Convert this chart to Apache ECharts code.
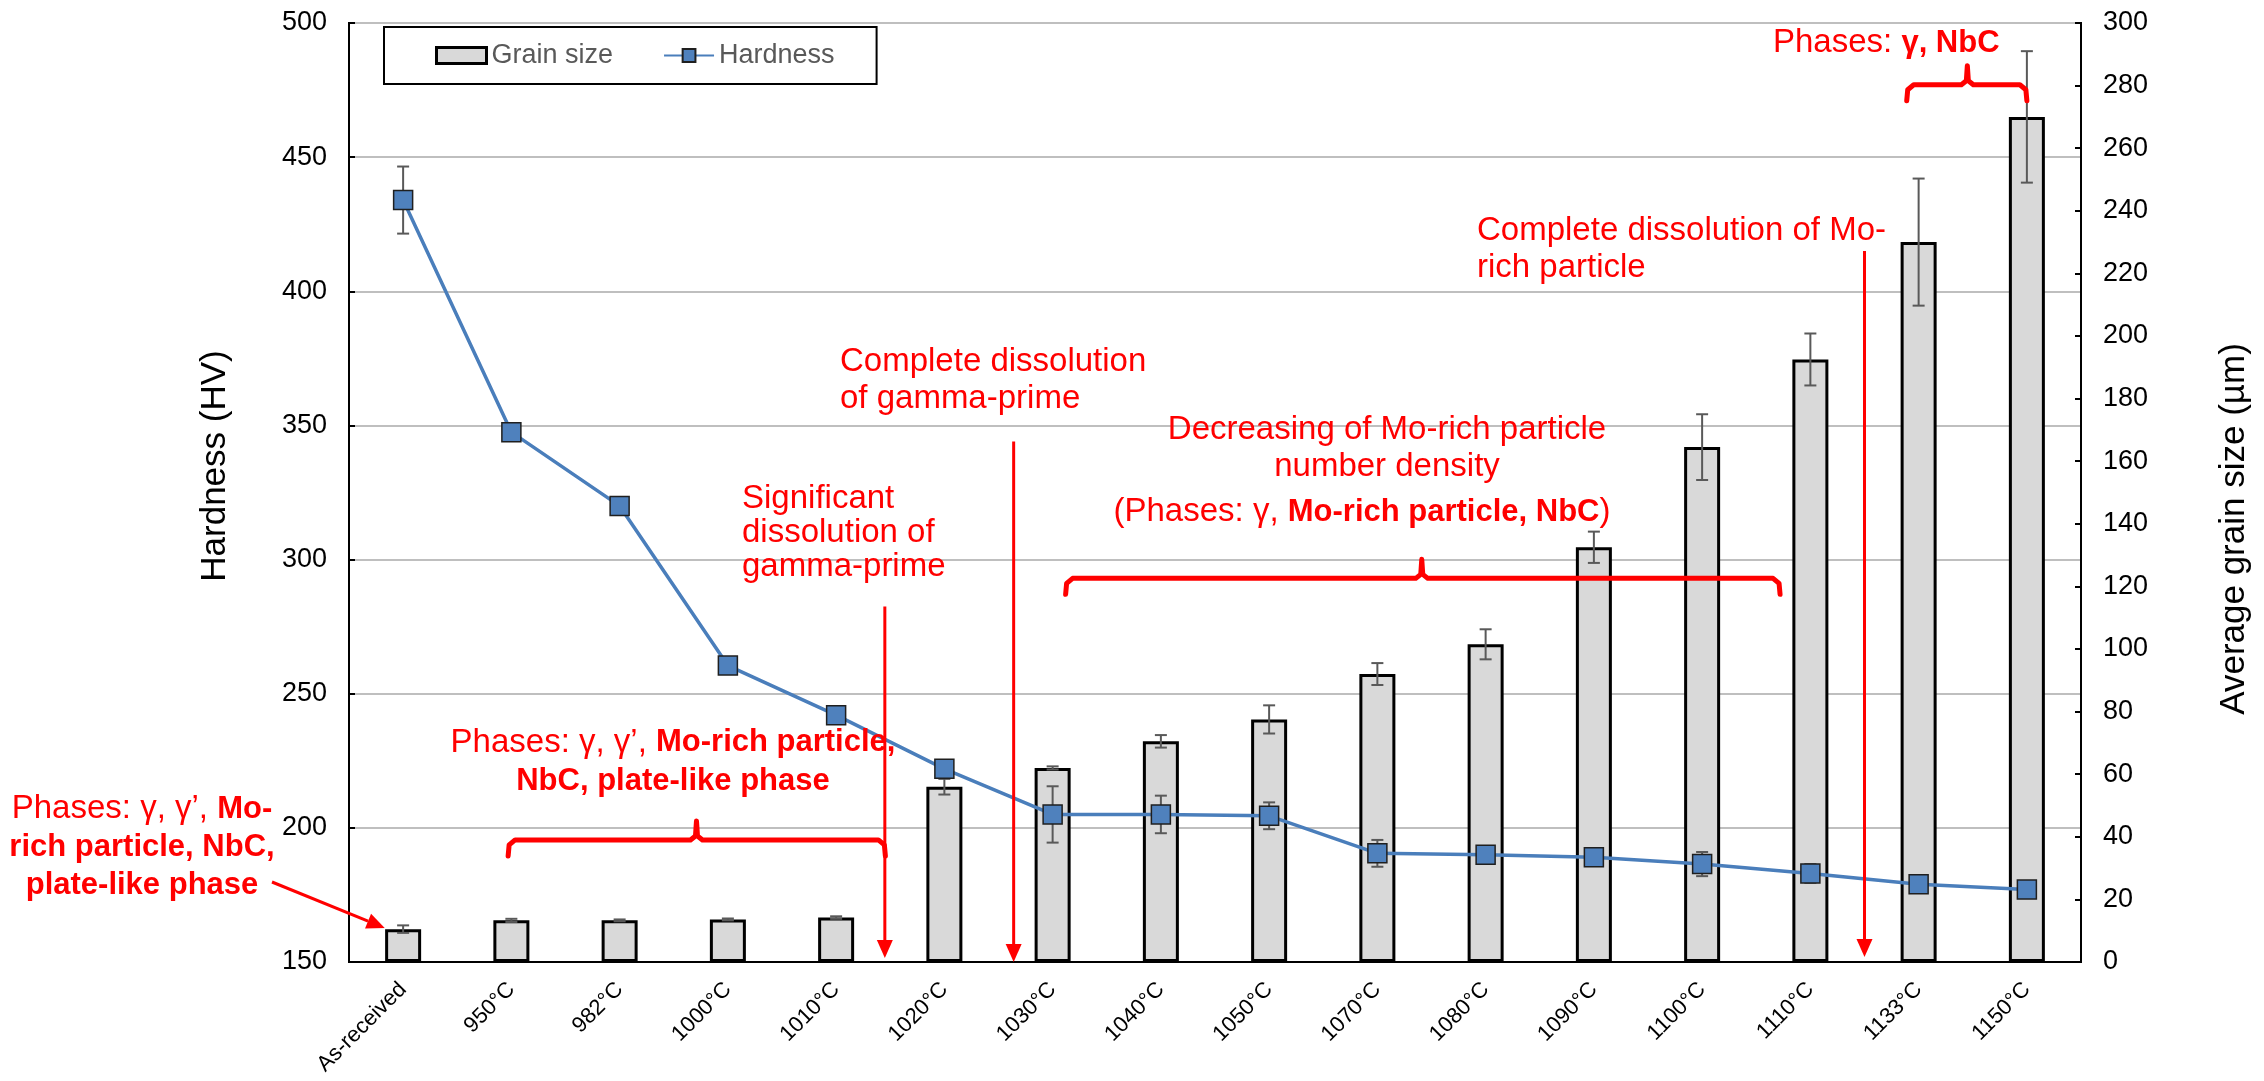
<!DOCTYPE html>
<html>
<head>
<meta charset="utf-8">
<script src="https://cdn.jsdelivr.net/npm/echarts@6/dist/echarts.min.js"></script>
<style>
  html, body { margin: 0; padding: 0; background: #fff; }
  #chart { width: 2264px; height: 1081px; }
</style>
</head>
<body>
<div id="chart"></div>
<script>
const categories = ['As-received', '950°C', '982°C', '1000°C', '1010°C', '1020°C', '1030°C', '1040°C',
  '1050°C', '1070°C', '1080°C', '1090°C', '1100°C', '1110°C', '1133°C', '1150°C']
// hardness (HV), left axis
const hardness = [434, 347.5, 320, 260.5, 242, 222, 205, 205, 204.5, 190.5, 190, 189, 186.5, 183, 179, 177]
const hardnessErr = [12.5, 1, 1, 1, 1, 3, 10.5, 7, 5, 5, 1.5, 2.5, 4.5, 3.5, 1.5, 2]
// average grain size (um), right axis
const grainSize = [10.5, 13.3, 13.3, 13.6, 14.2, 56, 62, 70.5, 77.5, 92, 101.5, 132.5, 164.5, 192.5, 230, 270]
const grainErr = [1.2, 0.5, 0.3, 0.3, 0.4, 2.5, 0.5, 2, 4.5, 3.5, 4.8, 5, 10.5, 8.3, 20.3, 21]

const RED = '#ff0000'
const FONT = 'Liberation Sans, Arial, sans-serif'

function errData(vals, errs) {
  return vals.map((v, i) => [i, v - errs[i], v + errs[i]])
}

function renderErr(params, api) {
  const lo = api.coord([api.value(0), api.value(1)])
  const hi = api.coord([api.value(0), api.value(2)])
  const hw = 6
  const st = { stroke: '#595959', lineWidth: 2 }
  return {
    type: 'group',
    children: [
      { type: 'line', shape: { x1: hi[0], y1: hi[1], x2: lo[0], y2: lo[1] }, style: st },
      { type: 'line', shape: { x1: hi[0] - hw, y1: hi[1], x2: hi[0] + hw, y2: hi[1] }, style: st },
      { type: 'line', shape: { x1: lo[0] - hw, y1: lo[1], x2: lo[0] + hw, y2: lo[1] }, style: st }
    ]
  }
}

const axisLabelStyle = { color: '#000', fontSize: 27, fontFamily: 'Arial, Liberation Sans, sans-serif', margin: 22 }

const chart = echarts.init(document.getElementById('chart'))
const option = {
  animation: false,
  backgroundColor: '#fff',
  grid: {
    left: 349, right: 183, top: 23, bottom: 119,
    show: true, borderColor: '#000', borderWidth: 2,
    outerBoundsMode: 'none'
  },
  legend: {
    left: 384, top: 27,
    orient: 'horizontal',
    padding: [15, 42, 15, 51],
    itemGap: 50,
    itemWidth: 50,
    itemHeight: 16,
    borderColor: '#000',
    borderWidth: 2,
    textStyle: { color: '#595959', fontSize: 27, fontFamily: 'Arial, Liberation Sans, sans-serif' },
    data: [
      { name: 'Grain size', icon: 'rect', itemStyle: { color: '#d9d9d9', borderColor: '#000', borderWidth: 3 } },
      { name: 'Hardness' }
    ]
  },
  xAxis: {
    type: 'category',
    data: categories,
    boundaryGap: true,
    axisLine: { lineStyle: { color: '#000', width: 2 } },
    axisTick: { show: false },
    axisLabel: { rotate: 45, interval: 0, color: '#000', fontSize: 22, fontFamily: 'Arial, Liberation Sans, sans-serif', margin: 24 },
    splitLine: { show: false }
  },
  yAxis: [
    {
      type: 'value', min: 150, max: 500, interval: 50,
      axisLine: { show: true, lineStyle: { color: '#000', width: 2 } },
      axisTick: { show: true, inside: true, length: 6, lineStyle: { color: '#000', width: 2 } },
      axisLabel: axisLabelStyle,
      splitLine: { show: true, lineStyle: { color: '#bfbfbf', width: 2 } }
    },
    {
      type: 'value', min: 0, max: 300, interval: 20, position: 'right',
      axisLine: { show: true, lineStyle: { color: '#000', width: 2 } },
      axisTick: { show: true, inside: true, length: 6, lineStyle: { color: '#000', width: 2 } },
      axisLabel: axisLabelStyle,
      splitLine: { show: false }
    }
  ],
  series: [
    {
      name: 'Grain size',
      type: 'bar',
      yAxisIndex: 1,
      barWidth: 36,
      z: 2,
      itemStyle: { color: '#d9d9d9', borderColor: '#000', borderWidth: 3 },
      data: grainSize
    },
    {
      name: 'grainErr',
      type: 'custom',
      yAxisIndex: 1,
      z: 3,
      renderItem: renderErr,
      encode: { x: 0, y: [1, 2] },
      data: errData(grainSize, grainErr)
    },
    {
      name: 'hardErr',
      type: 'custom',
      yAxisIndex: 0,
      z: 4,
      renderItem: renderErr,
      encode: { x: 0, y: [1, 2] },
      data: errData(hardness, hardnessErr)
    },
    {
      name: 'Hardness',
      type: 'line',
      yAxisIndex: 0,
      z: 5,
      symbol: 'rect',
      symbolSize: 19,
      lineStyle: { color: '#4a7ebb', width: 3.5 },
      itemStyle: { color: '#4f81bd', borderColor: '#1f1f1f', borderWidth: 1.5 },
      data: hardness
    }
  ]
}
chart.setOption(option)

// annotation helpers, placed from the axes
const x0 = chart.convertToPixel({ xAxisIndex: 0 }, 0)
const band = chart.convertToPixel({ xAxisIndex: 0 }, 1) - x0
const xAt = f => x0 + f * band
const yAt = v => chart.convertToPixel({ yAxisIndex: 0 }, v)

function arrow(x1, y1, x2, y2) {
  const a = Math.atan2(y2 - y1, x2 - x1)
  const L = 18, W = 8
  const bx = x2 - L * Math.cos(a), by = y2 - L * Math.sin(a)
  const px = -Math.sin(a) * W, py = Math.cos(a) * W
  return [
    { type: 'line', z: 100, shape: { x1: x1, y1: y1, x2: bx, y2: by }, style: { stroke: RED, lineWidth: 3 } },
    { type: 'polygon', z: 100, shape: { points: [[x2, y2], [bx + px, by + py], [bx - px, by - py]] }, style: { fill: RED } }
  ]
}

function brace(xa, xb, xm, y) {
  return {
    type: 'polyline', z: 100,
    shape: {
      points: [[xa, y + 16], [xa + 1, y + 5], [xa + 7, y], [xm - 6, y], [xm - 1, y - 4], [xm, y - 19],
        [xm + 1, y - 4], [xm + 6, y], [xb - 7, y], [xb - 1, y + 5], [xb, y + 16]]
    },
    style: { stroke: RED, lineWidth: 5, lineJoin: 'round', lineCap: 'round', fill: null }
  }
}

function note(x, y, text, align, lineHeight) {
  return {
    type: 'text', z: 100, x: x, y: y,
    style: {
      text: text, fill: RED, fontSize: 33, fontFamily: FONT,
      align: align, verticalAlign: 'middle', lineHeight: lineHeight,
      rich: {
        b: { fontWeight: 'bold', fontSize: 31, fill: RED, fontFamily: FONT, lineHeight: lineHeight },
        n: { fontSize: 33, fill: RED, fontFamily: FONT, lineHeight: lineHeight }
      }
    }
  }
}

const base = yAt(150)
const graphics = [
  // axis titles
  { type: 'text', x: 215, y: 466, rotation: Math.PI / 2,
    style: { text: 'Hardness (HV)', fill: '#000', fontSize: 35, fontFamily: 'Arial, Liberation Sans, sans-serif', align: 'center', verticalAlign: 'middle' } },
  { type: 'text', x: 2234, y: 529, rotation: Math.PI / 2,
    style: { text: 'Average grain size (µm)', fill: '#000', fontSize: 35, fontFamily: 'Arial, Liberation Sans, sans-serif', align: 'center', verticalAlign: 'middle' } },

  note(142, 847, '{n|Phases: γ, γ’, }{b|Mo-}\n{b|rich particle, NbC,}\n{b|plate-like phase}', 'center', 38),
  ...arrow(272, 882, xAt(-0.17), yAt(162.7)),

  note(673, 762, '{n|Phases: γ, γ’, }{b|Mo-rich particle,}\n{b|NbC, plate-like phase}', 'center', 39),
  brace(xAt(0.97), xAt(4.455), xAt(2.71), yAt(195.5)),

  note(742, 533, 'Significant\ndissolution of\ngamma-prime', 'left', 34),
  ...arrow(xAt(4.45), yAt(282.5), xAt(4.45), base - 4),

  note(840, 380, 'Complete dissolution\nof gamma-prime', 'left', 37),
  ...arrow(xAt(5.64), yAt(344), xAt(5.64), base),

  note(1387, 448, 'Decreasing of Mo-rich particle\nnumber density', 'center', 37),
  note(1362, 512, '{n|(Phases: γ, }{b|Mo-rich particle, NbC}{n|)}', 'center', 40),
  brace(xAt(6.12), xAt(12.72), xAt(9.41), yAt(293)),

  note(1477, 249, 'Complete dissolution of Mo-\nrich particle', 'left', 37),
  ...arrow(xAt(13.5), yAt(415), xAt(13.5), base - 5),

  note(1773, 43, '{n|Phases: }{b|γ, NbC}', 'left', 38),
  brace(xAt(13.89), xAt(15.0), xAt(14.45), yAt(477))
]
chart.setOption({ graphic: graphics })
</script>
</body>
</html>
